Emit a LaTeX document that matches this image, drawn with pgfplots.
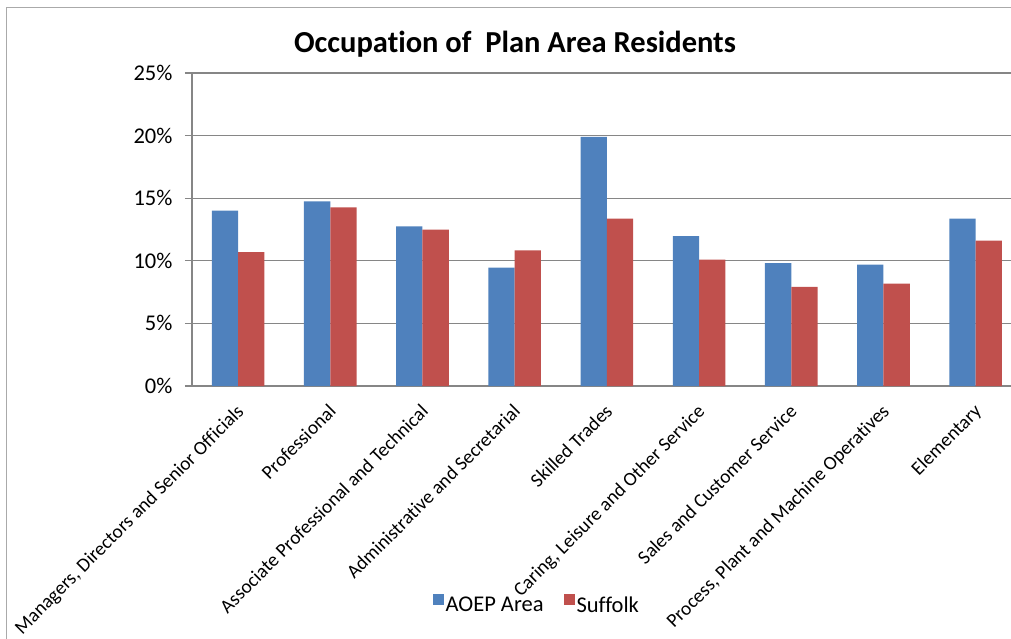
\documentclass[border=0pt]{standalone}
\usepackage{pgfplots}
\pgfplotsset{compat=1.18}
\usepackage{fontspec}
\setmainfont{Carlito}[Ligatures=NoCommon]
\definecolor{cblue}{RGB}{79,129,189}
\definecolor{cred}{RGB}{192,80,77}
\definecolor{cgrid}{RGB}{134,134,134}
\begin{document}
\begin{tikzpicture}
\useasboundingbox (-192pt,-253pt) rectangle (819pt,386pt);
\draw[cgrid!70, line width=1pt] (-185pt,-253pt) -- (-185pt,378pt) -- (819pt,378pt);
\node[font=\fontsize{30.5}{36}\selectfont\bfseries] at (323pt,342pt) {Occupation of\ \ Plan Area Residents};
\begin{axis}[
  at={(0pt,0pt)}, anchor=south west,
  scale only axis, width=819pt, height=313pt,
  xmin=-0.5, xmax=8.383, ymin=0, ymax=25,
  ybar=0pt, bar width=26.3pt,
  axis x line*=bottom, axis y line*=left,
  axis line style={cgrid, line width=1.2pt},
  ymajorgrids, grid style={cgrid, line width=1.2pt},
  ytick={0,5,...,25},
  yticklabel={\pgfmathprintnumber{\tick}\%},
  /pgf/number format/assume math mode=true,
  yticklabel style={font=\fontsize{22.5}{26}\selectfont, xshift=-9pt},
  y tick style={cgrid, line width=1.2pt},
  tick align=outside, major tick length=7pt,
  xtick={0,...,8},
  x tick style={draw=none},
  xticklabels={{Managers, Directors and Senior Officials}, Professional, Associate Professional and Technical, Administrative and Secretarial, Skilled Trades, {Caring, Leisure and Other Service}, Sales and Customer Service, {Process, Plant and Machine Operatives}, Elementary},
  xticklabel style={font=\fontsize{19.4}{23}\selectfont, rotate=45, anchor=north east, inner sep=1pt, xshift=-8pt, yshift=-4pt},
  extra x ticks={-0.5,0.5,1.5,2.5,3.5,4.5,5.5,6.5,7.5},
  extra x tick labels={},
  extra x tick style={grid=none, tick style={draw=cgrid, line width=1.2pt}, major tick length=7pt},
  legend style={at={(0.421,-0.70)}, anchor=center, draw=none, fill=none, legend columns=2,
    font=\fontsize{22.5}{26}\selectfont, /tikz/every even column/.append style={column sep=18pt}},
  legend image code/.code={\fill[#1] (-4pt,0pt) rectangle (7pt,11pt);},
]
\addplot[fill=cblue, draw=none] coordinates {(0,14.0) (1,14.75) (2,12.75) (3,9.45) (4,19.89) (5,11.98) (6,9.82) (7,9.69) (8,13.37)};
\addplot[fill=cred, draw=none] coordinates {(0,10.7) (1,14.27) (2,12.49) (3,10.84) (4,13.37) (5,10.09) (6,7.91) (7,8.17) (8,11.61)};
\legend{AOEP Area, Suffolk}
\end{axis}
\end{tikzpicture}
\end{document}
